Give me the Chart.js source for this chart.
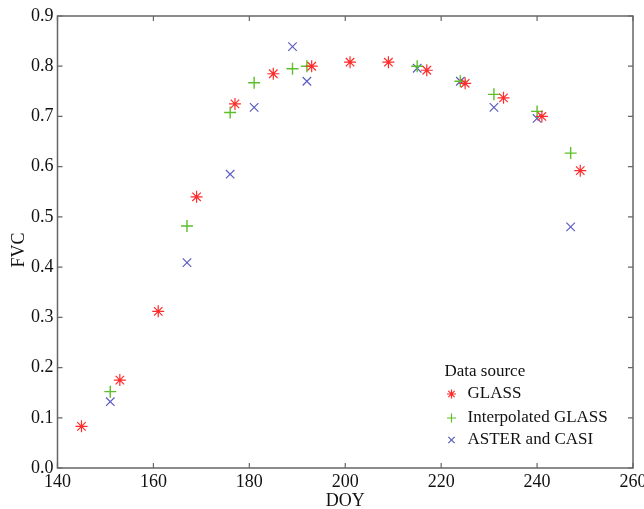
<!DOCTYPE html>
<html>
<head>
<meta charset="utf-8">
<script src="https://cdn.jsdelivr.net/npm/chart.js@4/dist/chart.umd.min.js"></script>
<style>
  html,body{margin:0;padding:0;background:#fff;}
  #wrap{width:644px;height:509px;}
</style>
</head>
<body>
<div id="wrap"><canvas id="c" width="644" height="509"></canvas></div>
<script>
// Data
const glassDoy = [145, 153, 161, 169, 177, 185, 193, 201, 209, 217, 225, 233, 241, 249];
const glassFvc = [0.083, 0.175, 0.312, 0.540, 0.725, 0.785, 0.800, 0.808, 0.808, 0.792, 0.766, 0.737, 0.700, 0.592];

const interpDoy = [151, 167, 176, 181, 189, 192, 215, 224, 231, 240, 247];
const interpFvc = [0.152, 0.482, 0.708, 0.767, 0.795, 0.800, 0.800, 0.770, 0.744, 0.710, 0.627];

const asterDoy = [151, 167, 176, 181, 189, 192, 215, 224, 231, 240, 247];
const asterFvc = [0.132, 0.409, 0.585, 0.718, 0.839, 0.770, 0.796, 0.770, 0.718, 0.696, 0.480];

const xTicks = [140, 160, 180, 200, 220, 240, 260];
const yTicks = [0.0, 0.1, 0.2, 0.3, 0.4, 0.5, 0.6, 0.7, 0.8, 0.9];

const seriesNames = ['GLASS', 'Interpolated GLASS', 'ASTER and CASI'];
const legendTitle = 'Data source';
const xTitle = 'DOY';
const yTitle = 'FVC';

const toPts = (xs, ys) => xs.map((x, i) => ({x: x, y: ys[i]}));

const RED = '#ff2b2b', GREEN = '#5cbf2a', BLUE = '#5c5cc4';
const FONT = "'Liberation Serif', 'Times New Roman', serif";

const frameTicks = {
  id: 'frameTicks',
  afterDraw(chart) {
    const {ctx, chartArea: a, scales: {x, y}} = chart;
    ctx.save();
    ctx.strokeStyle = '#666';
    ctx.lineWidth = 1.5;
    ctx.strokeRect(a.left, a.top, a.right - a.left, a.bottom - a.top);
    ctx.lineWidth = 1.2;
    const L = 5;
    ctx.beginPath();
    xTicks.forEach(v => {
      const px = x.getPixelForValue(v);
      ctx.moveTo(px, a.bottom); ctx.lineTo(px, a.bottom - L);
      ctx.moveTo(px, a.top); ctx.lineTo(px, a.top + L);
    });
    yTicks.forEach(v => {
      const py = y.getPixelForValue(v);
      ctx.moveTo(a.left, py); ctx.lineTo(a.left + L, py);
      ctx.moveTo(a.right, py); ctx.lineTo(a.right - L, py);
    });
    ctx.stroke();
    // y-axis title (slightly below the plot centre, as in the reference)
    ctx.save();
    ctx.translate(19, (a.top + a.bottom) / 2 + 8);
    ctx.rotate(-Math.PI / 2);
    ctx.font = '18px ' + FONT;
    ctx.fillStyle = '#111';
    ctx.textAlign = 'center';
    ctx.textBaseline = 'middle';
    ctx.fillText(yTitle, 0, 0);
    ctx.restore();
    ctx.restore();
  }
};

const innerLegend = {
  id: 'innerLegend',
  afterDraw(chart) {
    const {ctx, chartArea: a} = chart;
    const x0 = a.left + 387, y0 = a.top + 356;
    ctx.save();
    ctx.font = '17px ' + FONT;
    ctx.fillStyle = '#111';
    ctx.textBaseline = 'middle';
    ctx.textAlign = 'left';
    ctx.fillText(legendTitle, x0, y0);
    ctx.restore();
    const rows = [22, 46, 68];
    chart.data.datasets.forEach((ds, i) => {
      const yy = y0 + rows[i];
      ctx.save();
      ctx.strokeStyle = ds.borderColor;
      ctx.fillStyle = ds.backgroundColor;
      ctx.lineWidth = 1.2;
      Chart.helpers.drawPoint(ctx, {pointStyle: ds.pointStyle, radius: 4.5, rotation: 0, borderWidth: 1.2}, x0 + 7, yy);
      ctx.restore();
      ctx.save();
      ctx.font = '17px ' + FONT;
      ctx.fillStyle = '#111';
      ctx.textBaseline = 'middle';
      ctx.textAlign = 'left';
      ctx.fillText(ds.label, x0 + 23, yy);
      ctx.restore();
    });
  }
};

new Chart(document.getElementById('c'), {
  type: 'scatter',
  data: {
    datasets: [
      {label: seriesNames[0], data: toPts(glassDoy, glassFvc), pointStyle: 'star', radius: 6, borderColor: RED, backgroundColor: RED, borderWidth: 1.2},
      {label: seriesNames[1], data: toPts(interpDoy, interpFvc), pointStyle: 'cross', radius: 6, borderColor: GREEN, backgroundColor: GREEN, borderWidth: 1.4},
      {label: seriesNames[2], data: toPts(asterDoy, asterFvc), pointStyle: 'crossRot', radius: 6, borderColor: BLUE, backgroundColor: BLUE, borderWidth: 1.2}
    ]
  },
  options: {
    responsive: false,
    animation: false,
    layout: {padding: {left: 0, right: 11, top: 16, bottom: 0}},
    plugins: {legend: {display: false}, tooltip: {enabled: false}},
    scales: {
      x: {
        type: 'linear', min: 140, max: 260,
        afterBuildTicks: s => { s.ticks = xTicks.map(v => ({value: v})); },
        afterFit: s => { s.height = 41; s.paddingRight = 0; s.paddingLeft = 0; },
        grid: {display: false, drawTicks: false},
        border: {display: false},
        ticks: {color: '#111', font: {family: FONT, size: 18}, padding: 3},
        title: {display: true, text: xTitle, color: '#111', font: {family: FONT, size: 18}, padding: {top: 0, bottom: -3}}
      },
      y: {
        type: 'linear', min: 0, max: 0.9,
        afterBuildTicks: s => { s.ticks = yTicks.map(v => ({value: v})); },
        afterFit: s => { s.width = 57.5; s.paddingTop = 0; s.paddingBottom = 0; },
        grid: {display: false, drawTicks: false},
        border: {display: false},
        ticks: {color: '#111', font: {family: FONT, size: 18}, padding: 4, callback: v => Number(v).toFixed(1)},
        title: {display: false}
      }
    }
  },
  plugins: [frameTicks, innerLegend]
});
</script>
</body>
</html>
